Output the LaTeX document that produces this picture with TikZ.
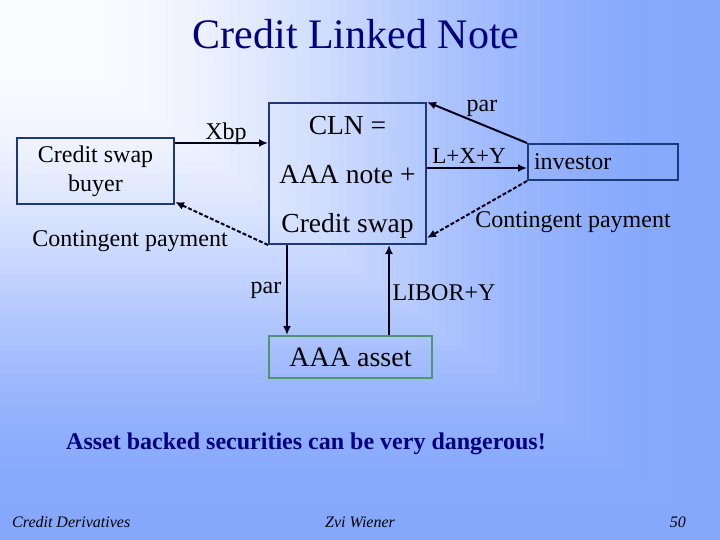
\documentclass[tikz,border=0pt]{standalone}
\usepackage{fontspec}
\setmainfont{Liberation Serif}
\usetikzlibrary{arrows.meta,calc}
\definecolor{lightc}{RGB}{250,251,255}
\definecolor{darkc}{RGB}{134,168,252}
\definecolor{navy}{RGB}{0,0,128}
\definecolor{boxblue}{RGB}{28,58,120}
\definecolor{boxgreen}{RGB}{80,150,110}
\tikzset{
  box/.style={draw=boxblue, line width=2pt, inner sep=0pt},
  abox/.style={draw=boxgreen, line width=2pt, inner sep=0pt},
  arr/.style={line width=2pt, draw=black!90!blue, -{Latex[length=9pt,width=8pt]}},
  darr/.style={arr, dash pattern=on 4pt off 2pt},
  lbl/.style={anchor=base, inner sep=0pt, font=\fontsize{24}{28}\selectfont},
  foot/.style={anchor=base, inner sep=0pt, font=\fontsize{16}{19}\selectfont\itshape}
}
\begin{document}
\begin{tikzpicture}[x=1pt,y=-1pt]
\useasboundingbox (0,0) rectangle (720,540);
% background: corner gradient (smoothstep)
\foreach \i [evaluate=\i as \t using {int(100*(3*(max(0,min(1,(\i/100-0.1)/0.85)))^2-2*(max(0,min(1,(\i/100-0.1)/0.85)))^3))}] in {100,99,...,1} {
  \fill[darkc!\t!lightc] (0,0) rectangle (7.2*\i,5.4*\i);
}
% title
\node[anchor=base, inner sep=0pt, text=navy, font=\fontsize{42}{50}\selectfont] (title) at (356,49) {Credit Linked Note};
% boxes
\node[box, minimum width=157pt, minimum height=66pt, align=center, font=\fontsize{24}{29}\selectfont] (buyer) at (95.5,171) {Credit swap\\buyer};
\node[box, minimum width=157pt, minimum height=141pt] (cln) at (347.5,173.5) {};
\node[inner sep=0pt, align=center, font=\fontsize{27.5}{49}\selectfont] (clntxt) at (347.5,177) {CLN =\\AAA note +\\Credit swap};
\node[box, minimum width=150pt, minimum height=36pt, text width=138pt, inner xsep=6pt, align=left, font=\fontsize{24}{28}\selectfont] (inv) at (603,162) {investor};
\node[abox, minimum width=163pt, minimum height=42pt, font=\fontsize{28}{32}\selectfont] (aaa) at (350.5,357) {AAA asset};
% connectors
\draw[arr] ([yshift=-6pt]buyer.north east) -- ([yshift=-6pt]buyer.north east -| cln.west);
\draw[darr] (cln.south west) -- ([yshift=3pt]buyer.south east);
\draw[arr] (inv.north west) -- (cln.north east);
\draw[arr] ([yshift=-6pt]inv.west -| cln.east) -- ([yshift=-6pt]inv.west);
\draw[darr] (inv.south west) -- ([yshift=7pt]cln.south east);
\draw[arr] ([xshift=19pt]aaa.north west |- cln.south) -- ([xshift=19pt]aaa.north west);
\draw[arr] ([xshift=121pt]aaa.north west) -- ([xshift=121pt]aaa.north west |- cln.south);
% labels
\node[lbl] (lxbp) at (226,140) {Xbp};
\node[lbl] (lcp1) at (130,247) {Contingent payment};
\node[lbl] (lpar1) at (482,112) {par};
\node[lbl, font=\fontsize{23}{27}\selectfont] (llxy) at (469,164) {L+X+Y};
\node[lbl] (lcp2) at (573,227) {Contingent payment};
\node[lbl] (lpar2) at (266,293) {par};
\node[lbl] (llib) at (444,300) {LIBOR+Y};
% bottom text
\node[anchor=base, inner sep=0pt, text=navy, font=\fontsize{24}{28}\selectfont\bfseries] (warn) at (306,449) {Asset backed securities can be very dangerous!};
\node[foot, anchor=base west] (f1) at (12,527) {Credit Derivatives};
\node[foot] (f2) at (360,527) {Zvi Wiener};
\node[foot, anchor=base east] (f3) at (686,527) {50};
\end{tikzpicture}
\end{document}
